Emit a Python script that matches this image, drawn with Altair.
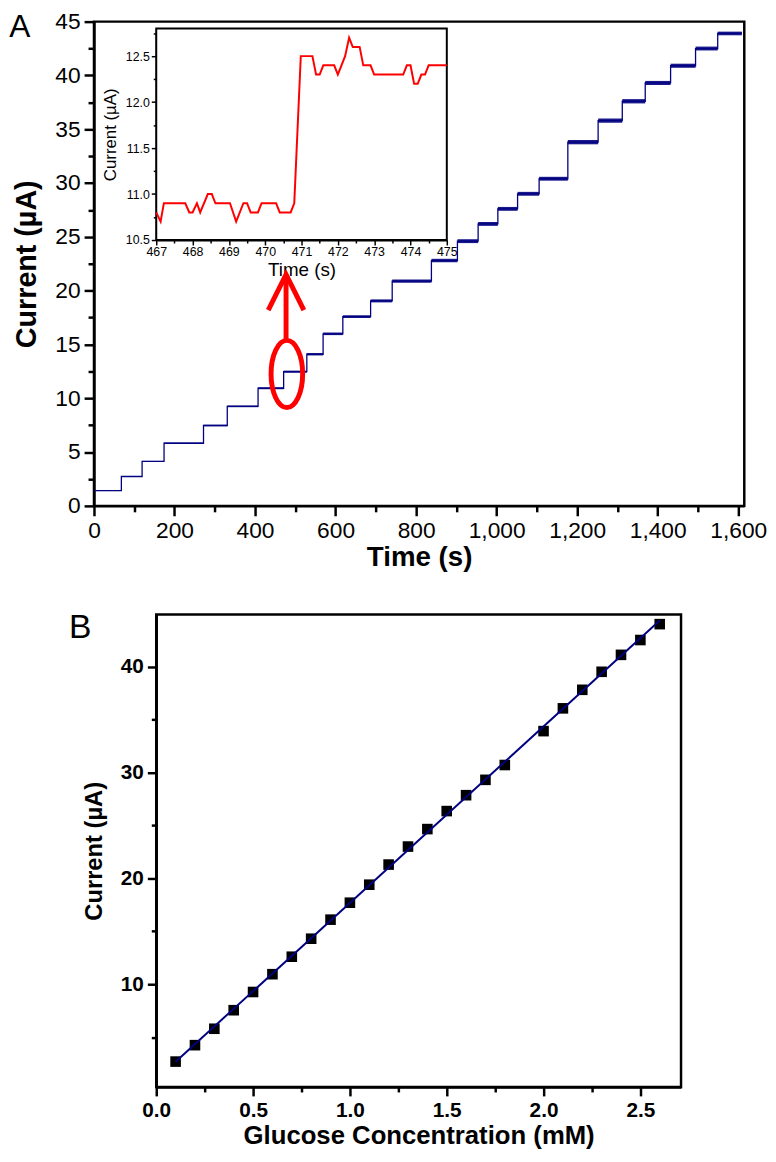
import altair as alt
import pandas as pd

# ---------------- Panel A: amperometric staircase ----------------
step_start = [0, 68, 119.5, 174, 272, 331, 407.5, 471, 528.6, 569, 618, 687, 740.6,
              838, 902.6, 954, 1003, 1052, 1105.5, 1176.8, 1252, 1312, 1369, 1432, 1494, 1549]
step_end = step_start[1:] + [1609]
step_level = [1.41, 2.73, 4.13, 5.82, 7.47, 9.25, 10.93, 12.47, 14.09, 15.99, 17.58, 19.05, 20.89,
              22.8, 24.6, 26.2, 27.6, 29.0, 30.4, 33.8, 35.8, 37.6, 39.3, 40.9, 42.5, 43.9]
step_noise = [0.03, 0.04, 0.05, 0.06, 0.07, 0.08, 0.09, 0.1, 0.11, 0.12, 0.13, 0.14, 0.15,
              0.16, 0.18, 0.18, 0.18, 0.18, 0.18, 0.2, 0.2, 0.2, 0.19, 0.19, 0.18, 0.17]

# inset (zoom on the step near 471 s)
inset_time = [467.0, 467.12, 467.21, 467.8, 467.91, 468.0, 468.12, 468.21, 468.42, 468.53,
              468.63, 469.03, 469.2, 469.4, 469.5, 469.6, 469.8, 469.9, 470.3, 470.4,
              470.7, 470.8, 470.98, 471.3, 471.4, 471.5, 471.6, 471.9, 472.0, 472.2,
              472.31, 472.41, 472.6, 472.7, 472.9, 473.0, 473.8, 473.9, 474.0, 474.1,
              474.2, 474.3, 474.4, 474.5, 475.0]
inset_current = [10.8, 10.7, 10.9, 10.9, 10.8, 10.8, 10.9, 10.8, 11.0, 11.0,
                 10.9, 10.9, 10.7, 10.9, 10.9, 10.8, 10.8, 10.9, 10.9, 10.8,
                 10.8, 10.9, 12.5, 12.5, 12.3, 12.3, 12.4, 12.4, 12.3, 12.5,
                 12.7, 12.6, 12.6, 12.4, 12.4, 12.3, 12.3, 12.4, 12.4, 12.2,
                 12.2, 12.3, 12.3, 12.4, 12.4]

# ---------------- Panel B: calibration ----------------
conc = [0.1, 0.2, 0.3, 0.4, 0.5, 0.6, 0.7, 0.8, 0.9, 1.0, 1.1, 1.2, 1.3, 1.4, 1.5, 1.6, 1.7, 1.8,
        2.0, 2.1, 2.2, 2.3, 2.4, 2.5, 2.6]
resp = [2.7, 4.25, 5.8, 7.55, 9.27, 10.95, 12.6, 14.3, 16.1, 17.7, 19.4, 21.3, 23.0, 24.65,
        26.35, 27.85, 29.3, 30.7, 33.9, 36.05, 37.8, 39.5, 41.1, 42.5, 44.0]

NAVY = "#000080"
RED = "#ff0000"
FONT = "Liberation Sans"

# ---------- data tables ----------
line_rows = []
k = 0
for s, e, lv in zip(step_start, step_end, step_level):
    line_rows.append({"t": s, "i": lv, "o": k}); k += 1
    line_rows.append({"t": e, "i": lv, "o": k}); k += 1
df_line = pd.DataFrame(line_rows)
df_band = pd.DataFrame({"t": step_start, "t2": step_end,
                        "i": [l - n for l, n in zip(step_level, step_noise)],
                        "i2": [l + n for l, n in zip(step_level, step_noise)]})
df_inset = pd.DataFrame({"t": inset_time, "i": inset_current})
df_B = pd.DataFrame({"c": conc, "v": resp})

W = 658
HA = 490
HB = 478

COMMON = dict(labelOverlap=False, labelFlush=False, domainColor="black", tickColor="black",
              labelColor="black", titleColor="black")

# ---------- Panel A main ----------
xA = alt.Scale(domain=[0, 1615], nice=False, zero=False)
yA = alt.Scale(domain=[0, 45], nice=False, zero=False)

axXA = alt.Axis(values=list(range(0, 1601, 100)),
                labelExpr="datum.value % 200 === 0 ? format(datum.value, ',') : ''",
                tickSize={"condition": {"test": "datum.value % 200 === 0", "value": 10}, "value": 6},
                title="Time (s)", labelFontSize=23, titleFontSize=28, titleFontWeight="bold",
                labelPadding=4, titlePadding=1, domainWidth=2.5, tickWidth=2.5, **COMMON)
axYA = alt.Axis(values=[x * 2.5 for x in range(0, 19)],
                labelExpr="datum.value % 5 === 0 ? format(datum.value, 'd') : ''",
                tickSize={"condition": {"test": "datum.value % 5 === 0", "value": 10}, "value": 6},
                title="Current (µA)", labelFontSize=23, titleFontSize=29, titleFontWeight="bold",
                labelPadding=4, titlePadding=14, domainWidth=2.5, tickWidth=2.5, **COMMON)


def XA(f):
    return alt.X(f, scale=xA, axis=axXA)


def YA(f):
    return alt.Y(f, scale=yA, axis=axYA)


frameA = alt.Chart(pd.DataFrame({"t": [0], "t2": [1615], "i": [0], "i2": [45]})).mark_rect(
    fillOpacity=0, stroke="black", strokeWidth=2.5
).encode(x=XA("t:Q"), x2="t2:Q", y=YA("i:Q"), y2="i2:Q")

band = alt.Chart(df_band).mark_rect(color=NAVY, opacity=0.9).encode(
    x=XA("t:Q"), x2="t2:Q", y=YA("i:Q"), y2="i2:Q")

trace = alt.Chart(df_line).mark_line(color=NAVY, strokeWidth=1.3).encode(
    x=XA("t:Q"), y=YA("i:Q"), order="o:Q")

# annotation: red ellipse and arrow (positions in data units)
ell = alt.Chart(pd.DataFrame({"t": [479], "i": [12.26]})).mark_point(
    shape="M0,-1 A0.47,1 0 1,1 0,1 A0.47,1 0 1,1 0,-1 Z", size=4624, filled=False,
    stroke=RED, strokeWidth=5, opacity=1
).encode(x=XA("t:Q"), y=YA("i:Q"))

shaft = alt.Chart(pd.DataFrame({"t": [477], "i": [15.3], "i2": [21.1]})).mark_rule(
    color=RED, strokeWidth=5
).encode(x=XA("t:Q"), y=YA("i:Q"), y2="i2:Q")

head = alt.Chart(pd.DataFrame({"t": [477], "i": [18.2]})).mark_point(
    shape="M-0.5,0 L0,-1 L0.5,0", size=5184, filled=False, stroke=RED, strokeWidth=5,
    opacity=1, strokeJoin="miter"
).encode(x=XA("t:Q"), y=YA("i:Q"))

labA = alt.Chart(pd.DataFrame({"l": ["A"]})).mark_text(
    fontSize=32, font=FONT, color="black", align="center", baseline="middle"
).encode(text="l:N", x=alt.value(-75), y=alt.value(6))

mainA = alt.layer(frameA, band, trace, ell, shaft, head, labA)

# ---------- Panel A inset ----------
xI = alt.Scale(domain=[467, 475], range=[63, 357], nice=False, zero=False)
yI = alt.Scale(domain=[10.5, 12.8], range=[221, 7], nice=False, zero=False)

axXI = alt.Axis(orient="bottom", offset=-(HA - 221),
                values=[467 + 0.5 * j for j in range(17)],
                labelExpr="datum.value % 1 === 0 ? format(datum.value, 'd') : ''",
                tickSize={"condition": {"test": "datum.value % 1 === 0", "value": 5}, "value": 3},
                title="Time (s)", labelFontSize=12.5, titleFontSize=19, titleFontWeight="normal",
                labelPadding=1, titlePadding=2, domainWidth=2, tickWidth=1.5, **COMMON)
axYI = alt.Axis(orient="left", offset=-63,
                values=[10.5 + 0.25 * j for j in range(10)],
                labelExpr="datum.value % 0.5 === 0 ? format(datum.value, '.1f') : ''",
                tickSize={"condition": {"test": "datum.value % 0.5 === 0", "value": 5}, "value": 3},
                title="Current (µA)", labelFontSize=12.5, titleFontSize=17, titleFontWeight="normal",
                labelPadding=2, titlePadding=6, domainWidth=2, tickWidth=1.5, **COMMON)


def XI(f):
    return alt.X(f, scale=xI, axis=axXI)


def YI(f):
    return alt.Y(f, scale=yI, axis=axYI)


frameI = alt.Chart(pd.DataFrame({"t": [467], "t2": [475], "i": [10.5], "i2": [12.8]})).mark_rect(
    fill="white", stroke="black", strokeWidth=2
).encode(x=XI("t:Q"), x2="t2:Q", y=YI("i:Q"), y2="i2:Q")

insetLine = alt.Chart(df_inset).mark_line(color=RED, strokeWidth=2).encode(
    x=XI("t:Q"), y=YI("i:Q"))

insetA = alt.layer(frameI, insetLine)

panelA = alt.layer(mainA, insetA).resolve_scale(x="independent", y="independent").properties(
    width=W, height=HA)

# ---------- Panel B ----------
xB = alt.Scale(domain=[0, 2.71], range=[63, 594], nice=False, zero=False)
yB = alt.Scale(domain=[0.3, 44.9], nice=False, zero=False)

axXB = alt.Axis(values=[0.25 * j for j in range(11)],
                labelExpr="datum.value % 0.5 === 0 ? format(datum.value, '.1f') : ''",
                tickSize={"condition": {"test": "datum.value % 0.5 === 0", "value": 9}, "value": 5},
                title="Glucose Concentration (mM)", labelFontSize=21, labelFontWeight="bold",
                titleFontSize=26, titleFontWeight="bold",
                labelPadding=4, titlePadding=2, domainWidth=2.5, tickWidth=2.5, **COMMON)
axYB = alt.Axis(offset=-63, values=[5, 10, 15, 20, 25, 30, 35, 40],
                labelExpr="datum.value % 10 === 0 ? format(datum.value, 'd') : ''",
                tickSize={"condition": {"test": "datum.value % 10 === 0", "value": 9}, "value": 5},
                title="Current (µA)", labelFontSize=21, labelFontWeight="bold",
                titleFontSize=24, titleFontWeight="bold",
                labelPadding=4, titlePadding=14, domainWidth=2.5, tickWidth=2.5, **COMMON)


def XB(f):
    return alt.X(f, scale=xB, axis=axXB)


def YB(f):
    return alt.Y(f, scale=yB, axis=axYB)


frameB = alt.Chart(pd.DataFrame({"c": [0], "c2": [2.71], "v": [0.3], "v2": [44.9]})).mark_rect(
    fillOpacity=0, stroke="black", strokeWidth=2.5
).encode(x=XB("c:Q"), x2="c2:Q", y=YB("v:Q"), y2="v2:Q")

squares = alt.Chart(df_B).mark_square(size=115, color="black", opacity=1).encode(
    x=XB("c:Q"), y=YB("v:Q"))

fit = alt.Chart(df_B).transform_regression("c", "v", extent=[0.1, 2.6]).mark_line(
    color=NAVY, strokeWidth=2
).encode(x=XB("c:Q"), y=YB("v:Q"))

labB = alt.Chart(pd.DataFrame({"l": ["B"]})).mark_text(
    fontSize=34, font=FONT, color="black", align="center", baseline="middle"
).encode(text="l:N", x=alt.value(-14), y=alt.value(14))

panelB = alt.layer(frameB, squares, fit, labB).properties(width=W, height=HB)

chart = alt.vconcat(panelA, panelB, spacing=39).properties(
    padding={"top": -5, "left": 0, "right": 0, "bottom": -2}
).configure_view(stroke="transparent").configure_axis(
    grid=False, labelFont=FONT, titleFont=FONT
).configure_text(font=FONT)

chart.save("out.html", embed_options={"renderer": "svg", "actions": False})
